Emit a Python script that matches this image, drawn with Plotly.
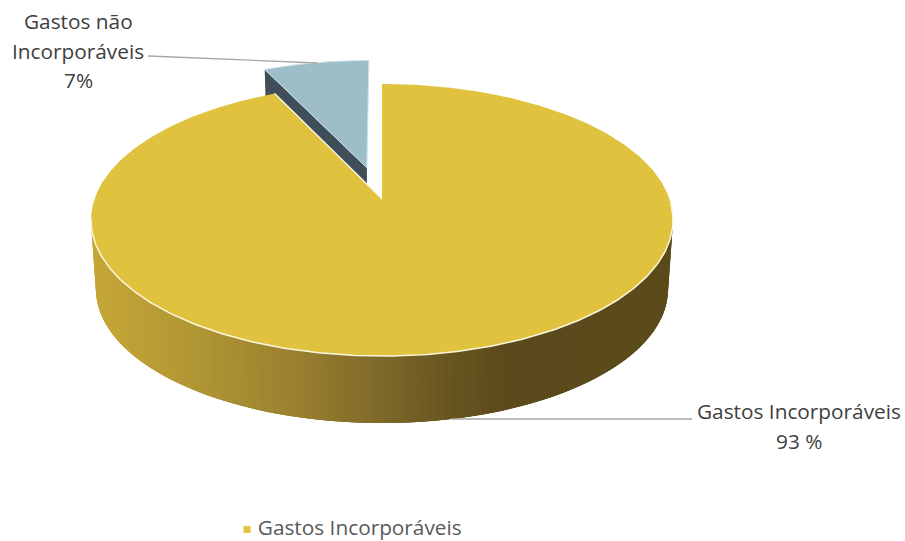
import math
import numpy as np
import plotly.graph_objects as go

# ---- data ----
categories = ["Gastos Incorporáveis", "Gastos não Incorporáveis"]
values = [93, 7]
label_gold = ["Gastos Incorporáveis", "93 %"]
label_blue = ["Gastos não", "Incorporáveis", "7%"]
legend_name = "Gastos Incorporáveis"

# ---- style / projection parameters (pixel canvas 905x541) ----
W, H = 905, 541
CX, CY_TOP, CY_BOT = 382.0, 199.0, 268.7
AX, BY, K = 287.5, 132.8, 0.1544
BOT_SCALE = 0.983
EXPLODE = 0.25
GOLD, BLUE, BLUE_EDGE, DARK = "#e0c23f", "#9dbdc9", "#cfe2e8", "#3f4e59"
TEXT = "#404040"
LEGEND_TEXT = "#595959"
LEADER = "#a6a6a6"
FONT = "Open Sans"
FS = 20.8
GRAD_STOPS = [(91, (198, 167, 54)), (200, (176, 149, 52)), (300, (154, 128, 47)),
              (380, (127, 106, 42)), (450, (105, 86, 32)), (510, (91, 74, 27)), (673, (92, 75, 26))]


def project(X, Y, bottom=False, dx=0.0, dy=0.0):
    X = np.asarray(X) + dx
    Y = np.asarray(Y) + dy
    w = 1 + K * Y
    s = BOT_SCALE if bottom else 1.0
    y0 = CY_BOT if bottom else CY_TOP
    return CX + s * AX * X / w, y0 - s * BY * Y / w


def ring(t0, t1, n=200):
    t = np.radians(np.linspace(t0, t1, n))
    return np.sin(t), np.cos(t)


def grad(x):
    xs = [s[0] for s in GRAD_STOPS]
    rgb = [float(np.interp(x, xs, [s[1][i] for s in GRAD_STOPS])) for i in range(3)]
    return "rgb(%d,%d,%d)" % tuple(round(c) for c in rgb)


total = sum(values)
gold_sweep = 360.0 * values[0] / total
blue_sweep = 360.0 * values[1] / total
mid = math.radians(gold_sweep + blue_sweep / 2)
ex, ey = EXPLODE * math.sin(mid), EXPLODE * math.cos(mid)

fig = go.Figure()


def poly(x, y, fill, line=None, lw=0.0):
    fig.add_trace(go.Scatter(x=list(x), y=list(y), mode="lines", fill="toself", fillcolor=fill,
                             line=dict(color=line or fill, width=lw), hoverinfo="skip", showlegend=False))


def stroke(x, y, color, lw):
    fig.add_trace(go.Scatter(x=list(x), y=list(y), mode="lines", line=dict(color=color, width=lw),
                             hoverinfo="skip", showlegend=False))


# exploded slice: cut face (mostly hidden behind the large slice), then its top
X, Y = math.sin(math.radians(gold_sweep)), math.cos(math.radians(gold_sweep))
tx, ty = project([0, X], [0, Y], dx=ex, dy=ey)
bx, by = project([X, 0], [Y, 0], bottom=True, dx=ex, dy=ey)
poly(list(tx) + list(bx), list(ty) + list(by), DARK)
rx, ry = ring(gold_sweep, 360, 40)
sx, sy = project(np.r_[0, rx, 0], np.r_[0, ry, 0], dx=ex, dy=ey)
poly(sx, sy, BLUE, BLUE_EDGE, 1.0)

# front wall of the large slice: overlapping strips painted right to left, so no seams show
edges = np.linspace(98.9, 261.1, 121)
step = edges[1] - edges[0]
for a in edges[:-1]:
    b = min(a + 3 * step, edges[-1])
    ax_, ay_ = ring(a, b, 7)
    x1, y1 = project(ax_, ay_)
    x2, y2 = project(ax_[::-1], ay_[::-1], bottom=True)
    c = grad(float(x1[0]))
    poly(np.r_[x1, x2], np.r_[y1, y2], c)

# top of the large slice
gx, gy = ring(0, gold_sweep, 400)
px, py = project(np.r_[0, gx, 0], np.r_[0, gy, 0])
poly(px, py, GOLD)

# thin light rim on the front arc and along the cut
fx, fy = ring(92, 262, 200)
x1, y1 = project(fx, fy)
stroke(x1, y1, "#fbf6df", 1.5)
cx_, cy_ = project([gx[-1], 0], [gy[-1], 0])
stroke(cx_, cy_, "#fbf6df", 1.5)

# leader lines
stroke([148, 317], [56, 63], LEADER, 1.3)
stroke([452, 692], [419, 419], LEADER, 1.3)

# legend entry
fig.add_trace(go.Scatter(x=[247], y=[529.5], mode="markers+text", text=[" " + legend_name],
                         textposition="middle right", marker=dict(symbol="square", size=7, color="#e4c443"),
                         textfont=dict(family=FONT, size=FS, color=LEGEND_TEXT), hoverinfo="skip",
                         showlegend=False, cliponaxis=False))

# data labels, one annotation per line
for xc, lines, ys in [(78, label_blue, [21, 51, 80]), (799, label_gold, [410.5, 440.5])]:
    for s, yy in zip(lines, ys):
        fig.add_annotation(x=xc, y=yy, text=s, showarrow=False, xanchor="center", yanchor="middle",
                           font=dict(family=FONT, size=FS, color=TEXT))

fig.update_xaxes(range=[0, W], visible=False, fixedrange=True)
fig.update_yaxes(range=[H, 0], visible=False, fixedrange=True)
fig.update_layout(width=W, height=H, margin=dict(l=0, r=0, t=0, b=0), paper_bgcolor="white",
                  plot_bgcolor="white", showlegend=False)
fig.write_html("out.html", config=dict(displayModeBar=False),
               post_script="document.body.style.margin='0';document.documentElement.style.overflow='hidden';")
